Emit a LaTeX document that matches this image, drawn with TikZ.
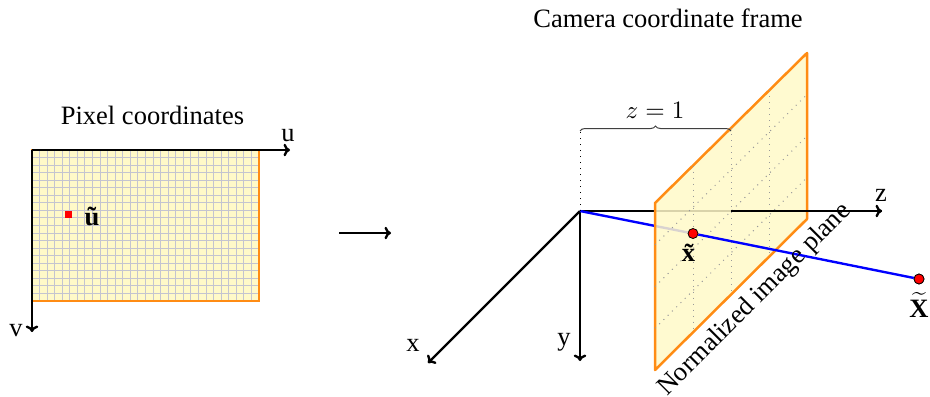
\documentclass[tikz,border=0pt]{standalone}
\usepackage{fontspec}
\setmainfont{Liberation Serif}
\usetikzlibrary{arrows.meta, decorations.pathreplacing}
\definecolor{planefill}{RGB}{255,249,200}
\definecolor{planeedge}{RGB}{255,140,20}
\definecolor{pixelgrid}{RGB}{196,196,208}
\begin{document}
\begin{tikzpicture}[>={To[length=2.6pt, width=5pt]}, font=\fontsize{10.6}{12}\selectfont, x=0.4pt, y=-0.4pt]
        \tikzset{axis/.style={draw=black, line width=0.95pt},
            edge/.style={draw=planeedge, line width=1pt},
            ray/.style={draw=blue, line width=0.95pt},
            hint/.style={draw=gray!80, line width=0.4pt, dotted},
            point/.style={circle, draw=black, fill=red, line width=0.3pt, inner sep=0pt, minimum size=4pt},
            label/.style={inner sep=0pt}}
        \useasboundingbox (0,0) rectangle (930,396);

        % pixel image
        \fill[planefill] (32,150) rectangle (259,301);
        \foreach \i in {1,...,29} {
            \draw[pixelgrid, line width=0.4pt] (32+\i*7.567,150) -- (32+\i*7.567,301);
        }
        \foreach \j in {1,...,19} {
            \draw[pixelgrid, line width=0.4pt] (32,150+\j*7.55) -- (259,150+\j*7.55);
        }
        \draw[edge] (32,150) rectangle (259,301);
        \coordinate (pix) at (32,150);
        \coordinate (uend) at (290,150);
        \coordinate (vend) at (32,332);
        \draw[axis, ->] (pix) -- (uend);
        \draw[axis, ->] (pix) -- (vend);
        \node[fill=red, inner sep=0pt, minimum size=2.8pt] (upt) at (68,214.5) {};
        \node[label] (ulabel) at (92,216) {\textbf{\~u}};
        \node[label] (utext) at (288,136) {u};
        \node[label] (vtext) at (16,331) {v};
        \node[label] (pixtitle) at (152.5,115) {Pixel coordinates};

        \coordinate (ms) at (339,233);
        \coordinate (me) at (391,233);
        \draw[axis, ->] (ms) -- (me);

        % camera frame
        \coordinate (org) at (580,211);
        \coordinate (zmid) at (731,211);
        \coordinate (zend) at (882,211);
        \coordinate (xend) at (428,363);
        \coordinate (yend) at (580,361);
        \coordinate (pa) at (655,203);
        \coordinate (pb) at (807,53);
        \coordinate (pc) at (807,219);
        \coordinate (pd) at (655,370);
        \coordinate (bl) at (580,131);
        \coordinate (br) at (731,131);
        \draw[axis, ->] (org) -- (zend);
        \draw[axis, ->] (org) -- (xend);
        \draw[axis, ->] (org) -- (yend);
        \node[point] (xpt) at (693,233.5) {};
        \node[point] (Xpt) at (919,279) {};
        \draw[ray] (org) -- (xpt);
        \fill[planefill, fill opacity=0.85] (pa) -- (pb) -- (pc) -- (pd) -- cycle;
        \draw[edge, line join=round] (pa) -- (pb) -- (pc) -- (pd) -- cycle;
        \foreach \x in {693,731,769} {
            \draw[hint] (\x,{203-(\x-655)*0.987}) -- (\x,{370-(\x-655)*0.993});
        }
        \foreach \k in {0.25,0.5,0.75} {
            \draw[hint] (655,{203+167*\k}) -- (807,{53+166*\k});
        }
        \draw[hint, black] (org) -- (bl);
        \draw[axis] (zmid) -- (zend);
        \draw[ray] (xpt) -- (Xpt);
        \node[point] at (xpt) {};
        \node[point] at (Xpt) {};
        \draw[draw=black!75, line width=0.4pt, decorate, decoration={brace, amplitude=2pt}] (bl) -- (br);

        \node[label, font=\fontsize{10}{12}\selectfont] (ztext) at (655,110) {$z=1$};
        \node[label] (camtitle) at (668,18) {Camera coordinate frame};
        \node[label] (xtext) at (413,345) {x};
        \node[label] (ytext) at (564,342) {y};
        \node[label] (zlabel) at (881,195) {z};
        \node[label] (xlabel) at (693,253) {\textbf{\~x}};
        \node[label] (Xlabel) at (919,305) {$\widetilde{\mathbf{X}}$};
        \node[label, rotate=45] (planetext) at (755,300) {Normalized image plane};
    \end{tikzpicture}
\end{document}
